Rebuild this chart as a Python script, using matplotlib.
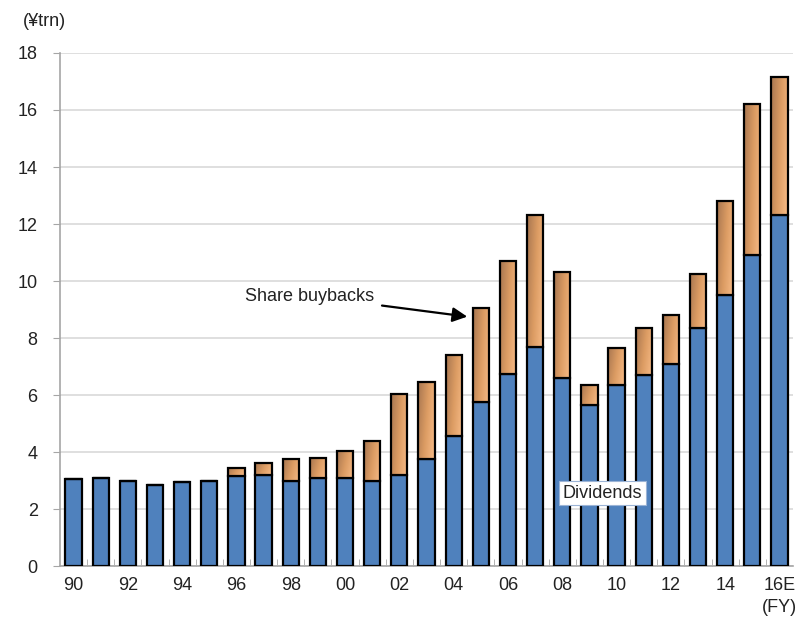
import numpy as np
import matplotlib.pyplot as plt
import matplotlib.colors as mcolors

plt.rcParams['font.family'] = ['Liberation Sans', 'DejaVu Sans']

## data (¥trn)
years = ['90', '91', '92', '93', '94', '95', '96', '97', '98', '99', '00', '01', '02', '03',
         '04', '05', '06', '07', '08', '09', '10', '11', '12', '13', '14', '15', '16E']
dividends = [3.05, 3.1, 3.0, 2.85, 2.95, 3.0, 3.15, 3.2, 3.0, 3.1, 3.1, 3.0, 3.2, 3.75,
             4.55, 5.75, 6.75, 7.7, 6.6, 5.65, 6.35, 6.7, 7.1, 8.35, 9.5, 10.9, 12.3]
totals = [3.05, 3.1, 3.0, 2.85, 2.95, 3.0, 3.45, 3.6, 3.75, 3.8, 4.05, 4.4, 6.05, 6.45,
          7.4, 9.05, 10.7, 12.3, 10.3, 6.35, 7.65, 8.35, 8.8, 10.25, 12.8, 16.2, 17.15]
buybacks = [t - d for t, d in zip(totals, dividends)]

fig = plt.figure(figsize=(8.07, 6.22), dpi=100)
ax = fig.add_axes([0.0743, 0.090, 0.9084, 0.8248])

x = np.arange(len(years))
w = 0.6
blue = '#4f81bd'

# dividends
ax.bar(x, dividends, w, color=blue, edgecolor='black', linewidth=1.6, zorder=3)

# share buybacks with a brown-to-peach gradient
bb = ax.bar(x, buybacks, w, bottom=dividends, color='#e8a86f', edgecolor='none', zorder=3)
cmap = mcolors.LinearSegmentedColormap.from_list('bb', ['#a87650', '#dc9c63', '#f8bc88'])
gx, gy = np.meshgrid(np.linspace(0, 1, 40), np.linspace(0, 1, 80))
grad = 0.75 * gx + 0.25 * gy
for p, b in zip(bb.patches, buybacks):
    if b <= 0:
        continue
    x0, y0 = p.get_x(), p.get_y()
    im = ax.imshow(grad, cmap=cmap, extent=[x0, x0 + p.get_width(), y0, y0 + p.get_height()],
                   origin='upper', aspect='auto', zorder=3.5, interpolation='bilinear')
    im.set_clip_path(p)
ax.bar(x, buybacks, w, bottom=dividends, fill=False, edgecolor='black', linewidth=1.6, zorder=4)

ax.set_xlim(-0.5, len(years) - 0.5)
ax.set_ylim(0, 18)
ax.set_yticks(range(0, 19, 2))
ax.set_xticks(x[::2])
ax.set_xticklabels(years[::2])
ax.set_xticks(x[:-1] + 0.5, minor=True)
ax.grid(axis='y', color='#d9d9d9', linewidth=1.2, zorder=0)
ax.set_axisbelow(True)

for s in ['top', 'right']:
    ax.spines[s].set_visible(False)
for s in ['left', 'bottom']:
    ax.spines[s].set_color('#a6a6a6')
    ax.spines[s].set_linewidth(1.2)

ax.tick_params(axis='y', length=5, color='#a6a6a6', labelsize=13, labelcolor='#222222', pad=11)
ax.tick_params(axis='x', which='major', length=0, labelsize=13, labelcolor='#222222', pad=8)
ax.tick_params(axis='x', which='minor', direction='in', length=5, color='#a6a6a6')

# annotations
ax.annotate('Share buybacks', xy=(14.5, 8.75), xytext=(6.3, 9.47), fontsize=13,
            color='#222222', va='center', ha='left',
            arrowprops=dict(arrowstyle='-|>', color='black', lw=1.6, mutation_scale=22,
                            shrinkA=4, shrinkB=0))
ax.text(19.48, 2.56, 'Dividends', fontsize=13, color='#222222', ha='center', va='center',
        zorder=6, bbox=dict(boxstyle='square,pad=0.2', facecolor='white',
                            edgecolor='#9bb4d6', linewidth=0.8))

fig.text(0.0285, 0.966, '(¥trn)', fontsize=13, color='#222222', ha='left', va='center')
fig.text(0.988, 0.024, '(FY)', fontsize=13, color='#222222', ha='right', va='center')

fig.savefig('out.png', dpi=100)
